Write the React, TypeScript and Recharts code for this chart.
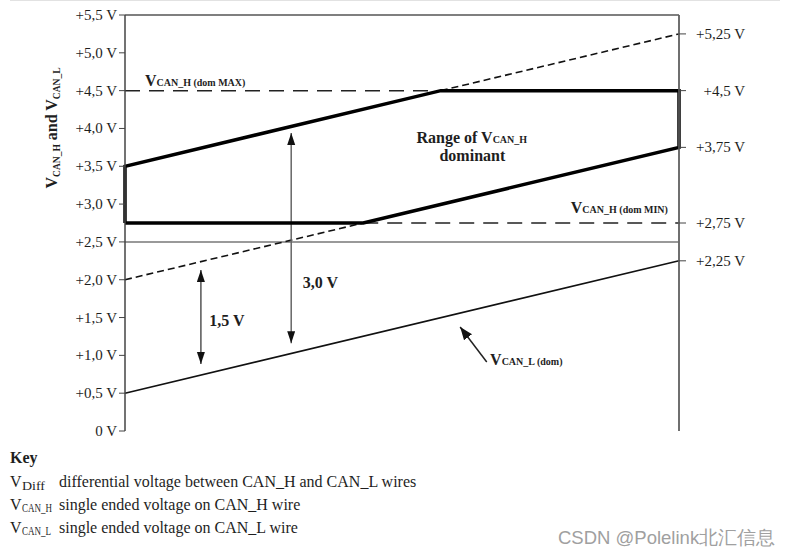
import React from 'react';
import { LineChart, Line, XAxis, YAxis, ReferenceDot } from 'recharts';

const leftTicks = [0, 0.5, 1, 1.5, 2, 2.5, 3, 3.5, 4, 4.5, 5, 5.5];
const rightTicks = [2.25, 2.75, 3.75, 4.5, 5.25];

const vcanL = [{ x: 0, y: 0.5 }, { x: 1, y: 2.25 }];
const vcanLPlusMin = [{ x: 0, y: 2.0 }, { x: 0.43, y: 2.75 }];
const vcanLPlusMax = [{ x: 0.57, y: 4.5 }, { x: 1, y: 5.25 }];
const rangeOutline = [
  { x: 0, y: 2.75 },
  { x: 0, y: 3.5 },
  { x: 0.57, y: 4.5 },
  { x: 1, y: 4.5 },
  { x: 1, y: 3.75 },
  { x: 0.43, y: 2.75 },
  { x: 0, y: 2.75 },
];
const domMaxLine = [{ x: 0, y: 4.5 }, { x: 0.57, y: 4.5 }];
const domMinLine = [{ x: 0.43, y: 2.75 }, { x: 1, y: 2.75 }];
const midLine = [{ x: 0, y: 2.5 }, { x: 1, y: 2.5 }];
const topLine = [{ x: 0, y: 5.5 }, { x: 1, y: 5.5 }];
const rightEdge = [{ x: 1, y: 0 }, { x: 1, y: 5.5 }];
const arrow30 = [{ x: 0.3, y: 1.16 }, { x: 0.3, y: 3.94 }];
const arrow15 = [{ x: 0.137, y: 0.886 }, { x: 0.137, y: 2.13 }];
const pointerL = [{ x: 0.653, y: 0.913 }, { x: 0.605, y: 1.376 }];

const SERIF = "'Liberation Serif', 'Times New Roman', serif";
const INK = '#1e1e1e';

const fmtLeft = (v: number) => (v === 0 ? '0 V' : '+' + v.toFixed(1).replace('.', ',') + ' V');
const fmtRight = (v: number) => '+' + String(v).replace('.', ',') + ' V';

const RightTick = (props: any) => {
  const { x, y, payload } = props;
  return (
    <text x={x + 57} y={y} dy={5} textAnchor="end" fontFamily={SERIF} fontSize={15} fill={INK}>
      {fmtRight(payload.value)}
    </text>
  );
};

const LeftTick = (props: any) => {
  const { x, y, payload } = props;
  return (
    <text x={x} y={y} dy={5} textAnchor="end" fontFamily={SERIF} fontSize={15} fill={INK}>
      {fmtLeft(payload.value)}
    </text>
  );
};

const YLabel = (props: any) => {
  const vb = props.viewBox || { x: 0, y: 15 };
  const lx = vb.x + 57;
  const ly = vb.y + 113;
  return (
    <text
      x={lx}
      y={ly}
      transform={`rotate(-90, ${lx}, ${ly})`}
      textAnchor="middle"
      fontFamily={SERIF}
      fontWeight="bold"
      fill={INK}
      fontSize={16}
    >
      <tspan>V</tspan>
      <tspan fontSize={9.5} dy={3}>CAN_H</tspan>
      <tspan dy={-3}> and V</tspan>
      <tspan fontSize={9.5} dy={3}>CAN_L</tspan>
    </text>
  );
};

const subLabel = (main: string, sub: string, anchor: 'start' | 'end' | 'middle') =>
  (p: any) => (
    <text x={p.cx} y={p.cy} textAnchor={anchor} fontFamily={SERIF} fontWeight="bold" fill={INK} fontSize={16}>
      {main}
      <tspan fontSize={10}>{sub}</tspan>
    </text>
  );

const plainLabel = (txt: string, anchor: 'start' | 'end' | 'middle') => (p: any) => (
  <text x={p.cx} y={p.cy} textAnchor={anchor} fontFamily={SERIF} fontWeight="bold" fill={INK} fontSize={16}>
    {txt}
  </text>
);

const common = {
  yAxisId: 'left',
  dataKey: 'y',
  dot: false,
  activeDot: false,
  isAnimationActive: false,
  legendType: 'none' as const,
  type: 'linear' as const,
};

export default function App() {
  return (
    <div style={{ position: 'absolute', left: 0, top: 0, width: 794, height: 556, background: '#fff' }}>
      <div style={{ position: 'absolute', left: 10, top: 0, width: 770, height: 1, background: '#e2e2e2' }} />
      <LineChart width={794} height={556} margin={{ top: 15, right: 0, bottom: 125, left: 0 }}>
        <defs>
          <marker id="ah" markerUnits="userSpaceOnUse" markerWidth={14} markerHeight={10} refX={12} refY={4} orient="auto-start-reverse">
            <path d="M0,0 L12,4 L0,8 z" fill="#111" />
          </marker>
          <marker id="ah2" markerUnits="userSpaceOnUse" markerWidth={14} markerHeight={12} refX={13} refY={5} orient="auto">
            <path d="M0,0 L13,5 L0,10 z" fill="#111" />
          </marker>
        </defs>
        <XAxis
          dataKey="x"
          type="number"
          domain={[0, 1]}
          tick={false}
          tickLine={false}
          height={0}
          axisLine={{ stroke: '#444', strokeWidth: 1.5 }}
        />
        <YAxis
          yAxisId="left"
          type="number"
          domain={[0, 5.5]}
          ticks={leftTicks}
          interval={0}
          width={125}
          tickSize={6}
          tick={<LeftTick />}
          axisLine={{ stroke: '#444', strokeWidth: 1.5 }}
          tickLine={{ stroke: '#444' }}
          label={<YLabel />}
        />
        <YAxis
          yAxisId="right"
          orientation="right"
          type="number"
          domain={[0, 5.5]}
          ticks={rightTicks}
          interval={0}
          width={115}
          tickSize={7}
          tick={<RightTick />}
          axisLine={{ stroke: '#666', strokeWidth: 1.5 }}
          tickLine={{ stroke: '#444' }}
        />
        <Line {...common} yAxisId="right" data={rightEdge} stroke="#666" strokeWidth={1.5} />
        <Line {...common} data={topLine} stroke="#555" strokeWidth={1.5} />
        <Line {...common} data={midLine} stroke="#777" strokeWidth={1.5} />
        <Line {...common} data={domMaxLine} stroke="#222" strokeWidth={1.5} strokeDasharray="15 9" />
        <Line {...common} data={domMinLine} stroke="#222" strokeWidth={1.5} strokeDasharray="15 9" />
        <Line {...common} data={vcanLPlusMin} stroke="#111" strokeWidth={1.6} strokeDasharray="7 4" />
        <Line {...common} data={vcanLPlusMax} stroke="#111" strokeWidth={1.6} strokeDasharray="7 4" />
        <Line {...common} data={vcanL} stroke="#111" strokeWidth={1.6} />
        <Line {...common} data={arrow30} stroke="#666" strokeWidth={1.5} markerStart="url(#ah)" markerEnd="url(#ah)" />
        <Line {...common} data={arrow15} stroke="#555" strokeWidth={1.5} markerStart="url(#ah)" markerEnd="url(#ah)" />
        <Line {...common} data={pointerL} stroke="#222" strokeWidth={1.5} markerEnd="url(#ah2)" />
        <Line {...common} data={rangeOutline} stroke="#000" strokeWidth={3.5} strokeLinejoin="miter" />
        <ReferenceDot yAxisId="left" x={0.036} y={4.56} r={0} shape={subLabel('V', 'CAN_H (dom MAX)', 'start')} />
        <ReferenceDot yAxisId="left" x={0.98} y={2.88} r={0} shape={subLabel('V', 'CAN_H (dom MIN)', 'end')} />
        <ReferenceDot yAxisId="left" x={0.626} y={3.81} r={0} shape={subLabel('Range of  V', 'CAN_H', 'middle')} />
        <ReferenceDot yAxisId="left" x={0.627} y={3.57} r={0} shape={plainLabel('dominant', 'middle')} />
        <ReferenceDot yAxisId="left" x={0.321} y={1.89} r={0} shape={plainLabel('3,0 V', 'start')} />
        <ReferenceDot yAxisId="left" x={0.152} y={1.39} r={0} shape={plainLabel('1,5 V', 'start')} />
        <ReferenceDot yAxisId="left" x={0.659} y={0.873} r={0} shape={subLabel('V', 'CAN_L (dom)', 'start')} />
      </LineChart>
      <svg width={794} height={556} style={{ position: 'absolute', left: 0, top: 0, pointerEvents: 'none' }}>
        <g fontFamily={SERIF} fill={INK} fontSize={16}>
          <text x={10} y={463} fontWeight="bold">Key</text>
          <text x={10} y={487}>V</text>
          <text x={22} y={490} fontSize={12.5} textLength={23} lengthAdjust="spacingAndGlyphs">Diff</text>
          <text x={59} y={487}>differential voltage between CAN_H and CAN_L wires</text>
          <text x={10} y={510}>V</text>
          <text x={22} y={512} fontSize={12.5} textLength={30} lengthAdjust="spacingAndGlyphs">CAN_H</text>
          <text x={59} y={510}>single ended voltage on CAN_H wire</text>
          <text x={10} y={533}>V</text>
          <text x={22} y={535} fontSize={12.5} textLength={29} lengthAdjust="spacingAndGlyphs">CAN_L</text>
          <text x={59} y={533}>single ended voltage on CAN_L wire</text>
        </g>
        <text x={558} y={544} fontFamily="'Liberation Sans', Arial, sans-serif" fontSize={18.5} fill="#a0a0a0">
          CSDN @Polelink北汇信息
        </text>
      </svg>
    </div>
  );
}
